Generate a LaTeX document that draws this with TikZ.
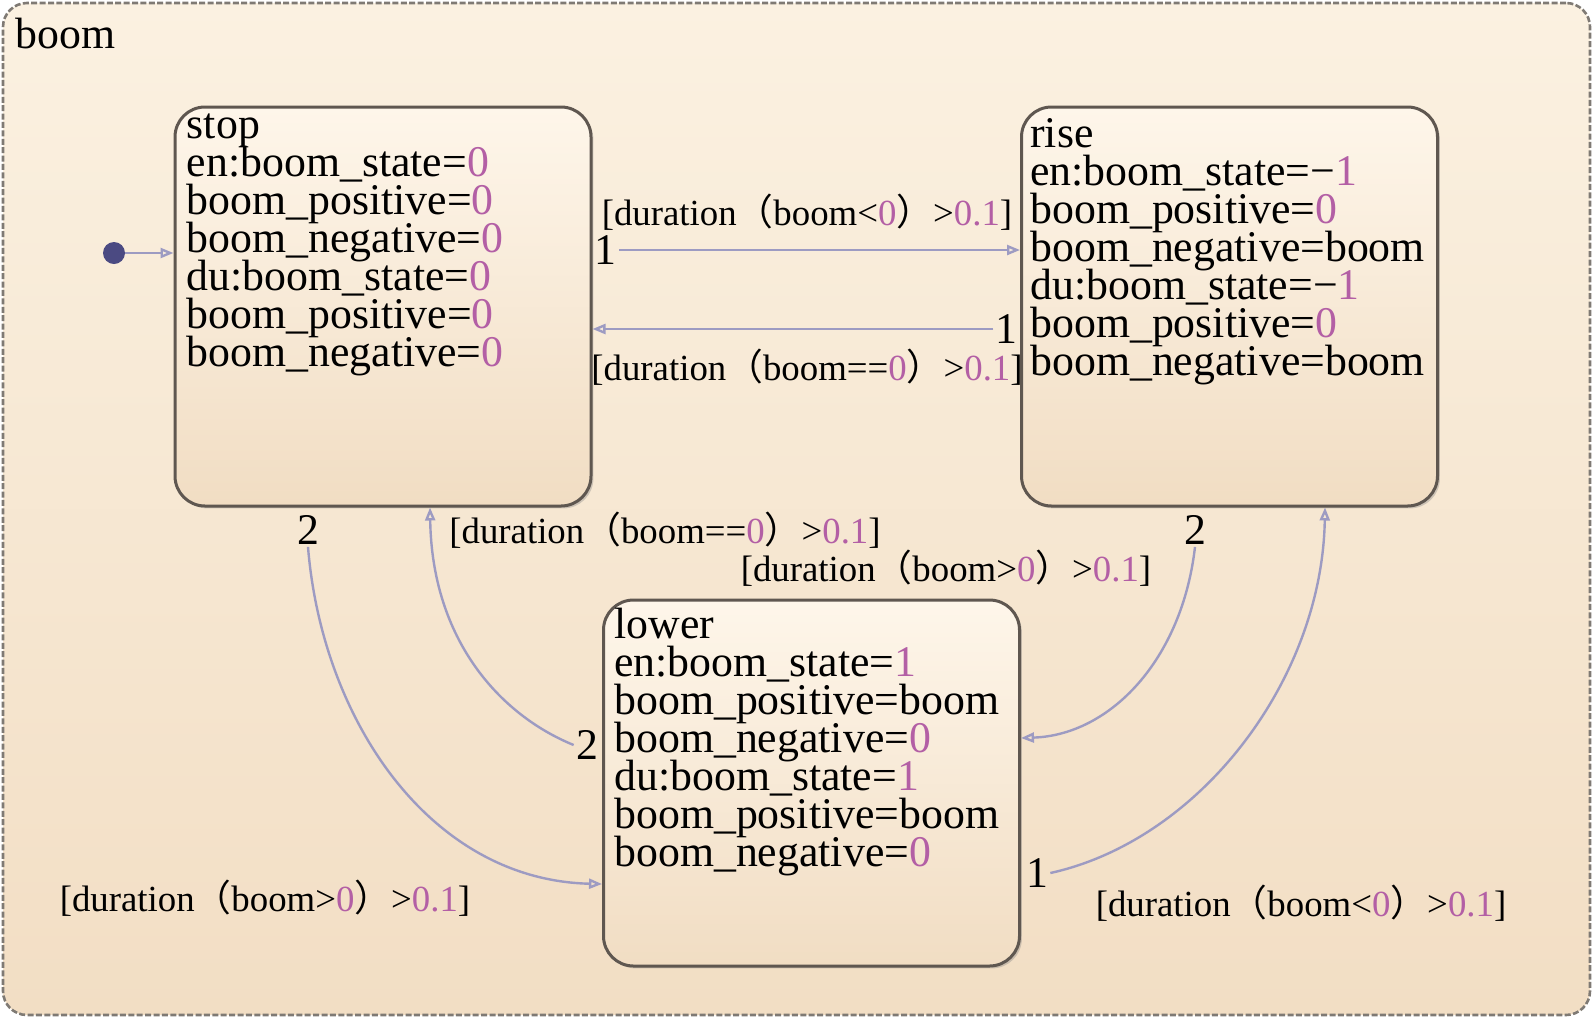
\documentclass[tikz,border=0pt]{standalone}
\usepackage{fontspec}
\setmainfont{Liberation Serif}
\newfontfamily\cjk{Noto Sans CJK SC}
\usetikzlibrary{arrows.meta,shadows}
\definecolor{valcol}{HTML}{B35FA5}
\definecolor{transcol}{HTML}{9D9BC2}
\definecolor{boxline}{HTML}{5F5750}
\definecolor{initcol}{HTML}{4B4A82}
\definecolor{chartline}{HTML}{7F7A74}
\definecolor{charttop}{HTML}{FBF1E1}
\definecolor{chartbot}{HTML}{F2DEC4}
\definecolor{boxtop}{HTML}{FEF6EA}
\definecolor{boxbot}{HTML}{F1DDC3}
\newcommand\val[1]{\textcolor{valcol}{#1}}
\newcommand\guard[2]{[duration{\cjk （}boom#1\val{#2}{\cjk ）}>\val{0.1}]}
\newcommand\tightlines{\lineskiplimit=-30pt\relax\lineskip=0pt\relax}
\tikzset{
  chart/.style={draw=chartline, line width=1.3pt, dash pattern=on 3pt off 1.2pt, rounded corners=12pt,
    top color=charttop, bottom color=chartbot, minimum width=793.5pt, minimum height=506pt, inner sep=0pt},
  statebox/.style={draw=boxline, line width=1.5pt, rounded corners=15pt,
    top color=boxtop, bottom color=boxbot,
    drop shadow={shadow xshift=1.2pt, shadow yshift=-1.2pt, opacity=.35},
    minimum width=208pt, inner sep=0pt},
  statetext/.style={anchor=base west, align=left, inner sep=0pt,
    font=\fontsize{21.9}{19}\selectfont\tightlines},
  trans/.style={draw=transcol, line width=1.2pt, -{Triangle[open, length=6.5pt, width=5pt]}},
  guard/.style={inner sep=0pt, font=\fontsize{18.4}{20}\selectfont},
  order/.style={inner sep=1pt, font=\fontsize{21.9}{22}\selectfont}
}
\begin{document}
\begin{tikzpicture}[x=0.5pt,y=-0.5pt]
  \useasboundingbox (0,0) rectangle (1595,1019);
  % chart frame
  \node[chart] (boom) at (796.5,509) {};
  \node[anchor=base west, inner sep=0pt, font=\fontsize{21.9}{22}\selectfont] (boomname) at (15,48) {boom};
  % states
  \node[statebox, minimum height=199.5pt] (stop) at (383,306.5) {};
  \node[statebox, minimum height=199.5pt] (rise) at (1229.5,306.5) {};
  \node[statebox, minimum height=183pt] (lower) at (811.5,783) {};
  \node[statetext] (stoptxt) at ([shift={(13,261)}]stop.north west) {stop\\
    en:boom\_state=\val{0}\\ boom\_positive=\val{0}\\ boom\_negative=\val{0}\\
    du:boom\_state=\val{0}\\ boom\_positive=\val{0}\\ boom\_negative=\val{0}};
  \node[statetext] (risetxt) at ([shift={(10,270)}]rise.north west) {rise\\
    en:boom\_state=−\val{1}\\ boom\_positive=\val{0}\\ boom\_negative=boom\\
    du:boom\_state=−\val{1}\\ boom\_positive=\val{0}\\ boom\_negative=boom};
  \node[statetext] (lowertxt) at ([shift={(12,268)}]lower.north west) {lower\\
    en:boom\_state=\val{1}\\ boom\_positive=boom\\ boom\_negative=\val{0}\\
    du:boom\_state=\val{1}\\ boom\_positive=boom\\ boom\_negative=\val{0}};
  % default transition
  \node[circle, fill=initcol, minimum size=11pt, inner sep=0pt] (init) at (114,253) {};
  \draw[trans] (init) -- (init -| stop.west);
  % stop <-> rise
  \node[order, anchor=west] (o1) at ([yshift=28.25pt]stop.east) {1};
  \draw[trans] (o1) -- (o1 -| rise.west);
  \node[order, anchor=east] (o2) at ([yshift=-11.25pt]rise.west) {1};
  \draw[trans] (o2) -- (o2 -| stop.east);
  % stop -> lower, lower -> stop
  \node[order] (o3) at (308,530) {2};
  \draw[trans] (o3.south) .. controls (322,720) and (430,880) .. ([yshift=-50.5pt]lower.west);
  \node[order] (o4) at (587,745) {2};
  \draw[trans] (o4.west) .. controls (500,715) and (432,640) .. ([xshift=23.5pt]stop.south);
  % rise -> lower, lower -> rise
  \node[order] (o5) at (1195,530) {2};
  \draw[trans] (o5.south) .. controls (1182,660) and (1110,735) .. ([yshift=22.5pt]lower.east);
  \node[order] (o6) at (1037,873) {1};
  \draw[trans] (o6.east) .. controls (1200,840) and (1322,680) .. ([xshift=47.75pt]rise.south);
  % guards
  \node[guard] (g1) at (807,212) {\guard{<}{0}};
  \node[guard] (g2) at (807,367) {\guard{==}{0}};
  \node[guard] (g3) at (265,898) {\guard{>}{0}};
  \node[guard] (g4) at (665,530) {\guard{==}{0}};
  \node[guard] (g5) at (946,568) {\guard{>}{0}};
  \node[guard] (g6) at (1301,903) {\guard{<}{0}};
\end{tikzpicture}
\end{document}
